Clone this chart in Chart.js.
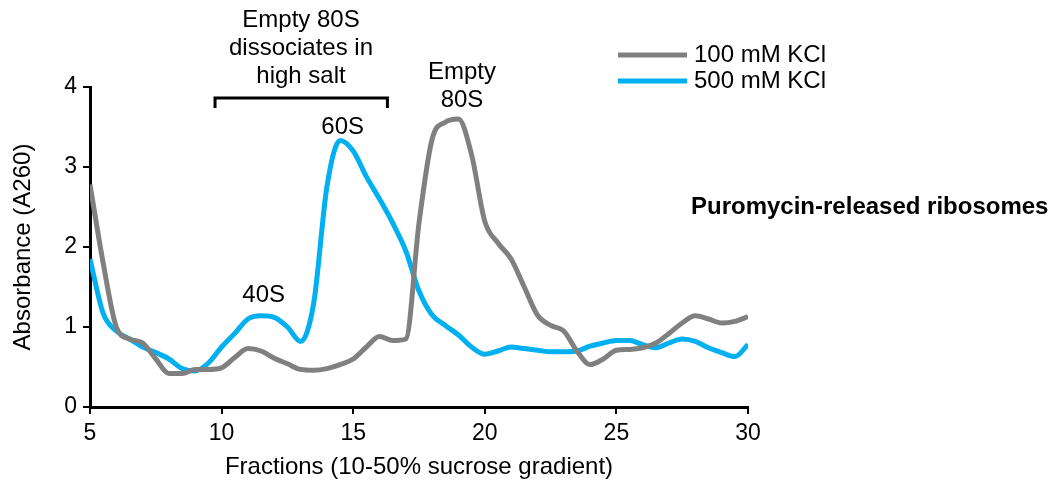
<!DOCTYPE html>
<html>
<head>
<meta charset="utf-8">
<script src="https://cdn.jsdelivr.net/npm/chart.js@4/dist/chart.umd.min.js"></script>
<style>
  html, body { margin: 0; padding: 0; background: #fff; }
  #wrap { width: 1055px; height: 491px; }
</style>
</head>
<body>
<div id="wrap"><canvas id="profileChart" width="1055" height="491"></canvas></div>
<script>
// gradient fractions (x) and A260 readings for each salt condition
const fractions = [5, 5.5, 6, 6.5, 7, 7.5, 8, 8.5, 9, 9.5, 10, 10.5, 11, 11.5, 12, 12.5, 13, 13.5, 14, 14.5,
    15, 15.5, 16, 16.5, 17, 17.5, 18, 18.5, 19, 19.5, 20, 20.5, 21, 21.5, 22, 22.5, 23, 23.5, 24, 24.5,
    25, 25.5, 26, 26.5, 27, 27.5, 28, 28.5, 29, 29.5, 30];
const kcl100 = [2.78, 1.8, 1.0, 0.85, 0.8, 0.6, 0.42, 0.42, 0.47, 0.47, 0.49, 0.62, 0.73, 0.7, 0.61, 0.54, 0.47, 0.46, 0.48, 0.53,
    0.6, 0.75, 0.88, 0.83, 0.85, 2.3, 3.35, 3.56, 3.6, 3.15, 2.32, 2.05, 1.85, 1.5, 1.15, 1.02, 0.95, 0.7, 0.53, 0.6,
    0.71, 0.72, 0.74, 0.8, 0.92, 1.05, 1.14, 1.1, 1.05, 1.07, 1.13];
const kcl500 = [1.85, 1.17, 0.95, 0.85, 0.75, 0.68, 0.6, 0.48, 0.45, 0.55, 0.75, 0.92, 1.1, 1.14, 1.12, 1.0, 0.82, 1.3, 2.75, 3.33,
    3.2, 2.88, 2.6, 2.3, 1.95, 1.45, 1.15, 1.02, 0.9, 0.75, 0.66, 0.7, 0.75, 0.73, 0.71, 0.69, 0.69, 0.7, 0.76, 0.8,
    0.83, 0.83, 0.78, 0.74, 0.8, 0.85, 0.82, 0.74, 0.68, 0.63, 0.78];
const seriesNames = ['100 mM KCl', '500 mM KCl'];
const seriesColors = ['#808080', '#00B0F0'];
const xTicks = [5, 10, 15, 20, 25, 30];
const yTicks = [0, 1, 2, 3, 4];

const FONT = '"Liberation Sans", Arial, sans-serif';

function pairs(xs, ys) {
    return xs.map(function(x, i) { return { x: x, y: ys[i] }; });
}

// annotations, legend and titles drawn on top of the chart
const overlay = {
    id: 'overlay',
    afterDraw: function(chart) {
        const c = chart.ctx;
        const xs = chart.scales.x;
        const area = chart.chartArea;
        c.save();
        c.fillStyle = '#000';
        c.textAlign = 'center';
        c.textBaseline = 'middle';
        c.font = '24px ' + FONT;

        // axis titles
        c.fillText('Fractions (10-50% sucrose gradient)', (area.left + area.right) / 2, 467);
        c.save();
        c.translate(23, (area.top + area.bottom) / 2);
        c.rotate(-Math.PI / 2);
        c.fillText('Absorbance (A260)', 0, 0);
        c.restore();

        // peak labels
        c.fillText('Empty 80S', 301, 20);
        c.fillText('dissociates in', 301, 48);
        c.fillText('high salt', 301, 76);
        c.fillText('Empty', 462, 72);
        c.fillText('80S', 462, 100);
        c.fillText('60S', xs.getPixelForValue(14.6), 127);
        c.fillText('40S', xs.getPixelForValue(11.6), 295);

        // bracket over the dissociation region
        const bx1 = xs.getPixelForValue(9.75), bx2 = xs.getPixelForValue(16.3);
        c.strokeStyle = '#000';
        c.lineWidth = 3;
        c.beginPath();
        c.moveTo(bx1, 108);
        c.lineTo(bx1, 98);
        c.lineTo(bx2, 98);
        c.lineTo(bx2, 108);
        c.stroke();

        // legend
        c.textAlign = 'left';
        c.lineWidth = 5;
        [55, 81].forEach(function(y, i) {
            c.strokeStyle = seriesColors[i];
            c.beginPath();
            c.moveTo(618, y);
            c.lineTo(687, y);
            c.stroke();
            c.fillText(seriesNames[i], 694, y);
        });

        // side title
        c.font = 'bold 24px ' + FONT;
        c.fillText('Puromycin-released ribosomes', 691, 207);
        c.restore();
    }
};

new Chart(document.getElementById('profileChart'), {
    type: 'line',
    data: {
        datasets: [{
            label: seriesNames[0],
            data: pairs(fractions, kcl100),
            borderColor: seriesColors[0],
            borderWidth: 5,
            pointRadius: 0,
            cubicInterpolationMode: 'monotone',
            fill: false
        }, {
            label: seriesNames[1],
            data: pairs(fractions, kcl500),
            borderColor: seriesColors[1],
            borderWidth: 5,
            pointRadius: 0,
            cubicInterpolationMode: 'monotone',
            fill: false
        }]
    },
    options: {
        responsive: false,
        animation: false,
        layout: { padding: { left: 0, top: 87, right: 307, bottom: 0 } },
        plugins: {
            legend: { display: false },
            tooltip: { enabled: false }
        },
        scales: {
            x: {
                type: 'linear',
                min: 5,
                max: 30,
                afterBuildTicks: function(s) { s.ticks = xTicks.map(function(v) { return { value: v }; }); },
                afterFit: function(s) { s.height = 84; },
                ticks: { color: '#000', font: { family: FONT, size: 23 }, padding: 6, maxRotation: 0 },
                grid: { drawOnChartArea: false, drawTicks: true, tickLength: 7, color: '#000', lineWidth: 2 },
                border: { color: '#000', width: 3 }
            },
            y: {
                min: 0,
                max: 4,
                afterBuildTicks: function(s) { s.ticks = yTicks.map(function(v) { return { value: v }; }); },
                afterFit: function(s) { s.width = 90; },
                ticks: { color: '#000', font: { family: FONT, size: 23 }, padding: 6 },
                grid: { drawOnChartArea: false, drawTicks: true, tickLength: 7, color: '#000', lineWidth: 2 },
                border: { color: '#000', width: 3 }
            }
        }
    },
    plugins: [overlay]
});
</script>
</body>
</html>
